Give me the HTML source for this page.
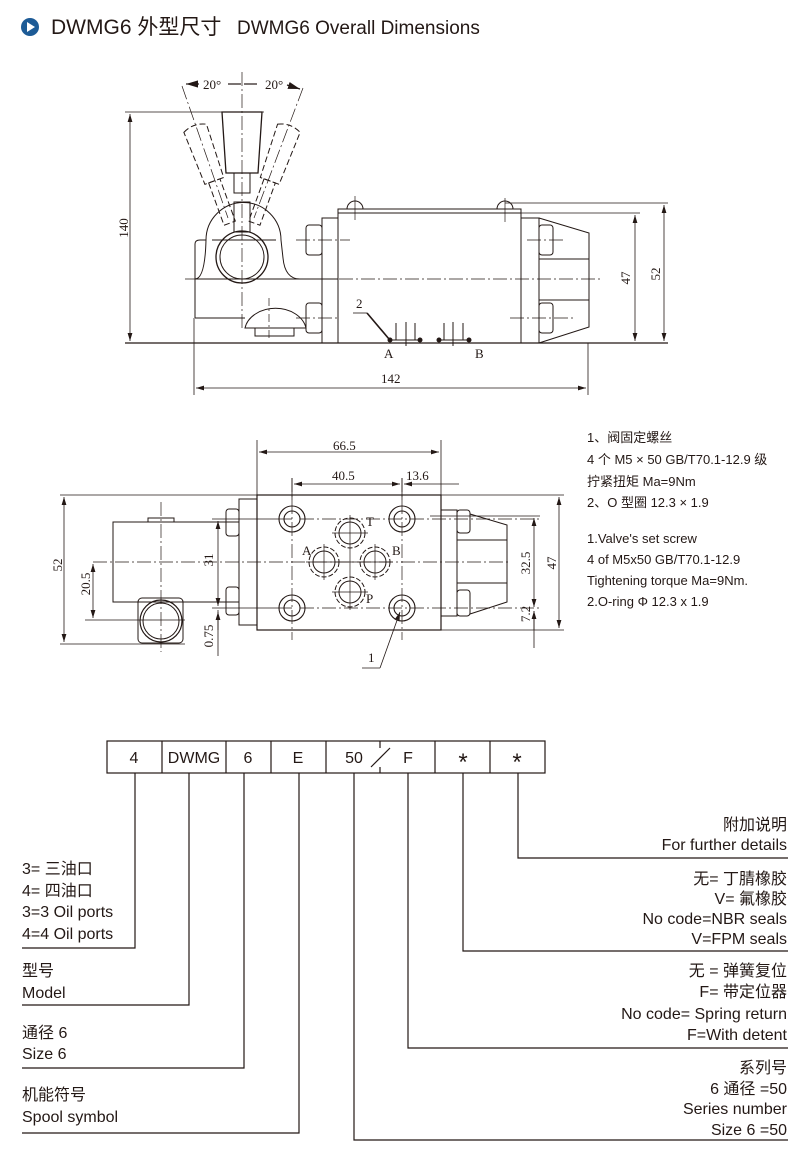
<!DOCTYPE html>
<html><head><meta charset="utf-8"><style>
body{margin:0;background:#fff}
svg{display:block}
text{font-family:"Liberation Sans","Noto Sans CJK SC",sans-serif;fill:#231815}
.s{font-family:"Liberation Serif","Noto Serif CJK SC",serif;font-size:13px}
</style></head><body>
<svg width="812" height="1164" viewBox="0 0 812 1164" xmlns="http://www.w3.org/2000/svg">
<defs><marker id="a" viewBox="0 0 10 6" refX="10" refY="3" markerWidth="10" markerHeight="6" orient="auto-start-reverse"><path d="M0,0L10,3L0,6z" fill="#231815"/></marker></defs>
<circle cx="30" cy="27" r="9" fill="#1d5b96"/>
<path d="M27,22L35,27L27,32z" fill="#fff"/>
<text x="51" y="34" font-size="21">DWMG6 外型尺寸</text>
<text x="237" y="34" font-size="19">DWMG6 Overall Dimensions</text>

<g fill="none" stroke="#231815" stroke-width="1">
<line x1="125" y1="112" x2="264" y2="112" stroke-width="0.8"/>
<line x1="130" y1="114" x2="130" y2="341" marker-start="url(#a)" marker-end="url(#a)" stroke-width="0.8"/>
<line x1="125" y1="343" x2="668" y2="343" stroke-width="1.2"/>
<path d="M222,112L262,112L258,173L226,173z" stroke-width="1.3"/>
<rect x="234" y="173" width="16" height="20"/>
<rect x="234" y="202" width="16" height="30"/>
<g stroke-dasharray="6,3" transform="rotate(-20 242 257)"><path d="M230,120Q242,114 254,120L252,176L232,176z"/><rect x="236" y="176" width="12" height="45"/></g>
<g stroke-dasharray="6,3" transform="rotate(20 242 257)"><path d="M230,120Q242,114 254,120L252,176L232,176z"/><rect x="236" y="176" width="12" height="45"/></g>
<line x1="242" y1="72" x2="242" y2="330" stroke-dasharray="14,3,2,3" stroke-width="0.7"/>
<line x1="182" y1="86" x2="228" y2="218" stroke-dasharray="14,3,2,3" stroke-width="0.7"/>
<line x1="303" y1="88" x2="254" y2="218" stroke-dasharray="14,3,2,3" stroke-width="0.7"/>
<line x1="186" y1="84" x2="199" y2="84" marker-start="url(#a)" stroke-width="1.2"/>
<line x1="228" y1="84" x2="241" y2="84" stroke-width="1.2"/>
<line x1="244" y1="84" x2="257" y2="84" stroke-width="1.2"/>
<line x1="287" y1="85" x2="300" y2="89" marker-end="url(#a)" stroke-width="1.2"/>
<path d="M195,318L195,244Q195,240 200,240L206,240"/>
<path d="M206,240A37,37 0 0 1 281,240L283,258Q285,279 300,279"/>
<path d="M206,240Q205,279 195,279"/>
<line x1="195" y1="318" x2="245" y2="318"/>
<circle cx="242" cy="257" r="26" stroke-width="1.3"/>
<circle cx="242" cy="257" r="22"/>
<path d="M245,328A31,24 0 0 1 306,328z"/>
<rect x="255" y="328" width="39" height="8"/>
<line x1="269" y1="298" x2="269" y2="338" stroke-dasharray="8,3,2,3" stroke-width="0.7"/>
<line x1="212" y1="240" x2="276" y2="240"/>
<line x1="195" y1="279" x2="338" y2="279"/>
<rect x="306" y="225" width="16" height="30" rx="3"/>
<rect x="306" y="303" width="16" height="30" rx="3"/>
<rect x="322" y="218" width="16" height="125"/>
<rect x="338" y="209" width="183" height="134"/>
<line x1="338" y1="213" x2="521" y2="213"/>
<path d="M347,209A8,8 0 0 1 363,209"/>
<path d="M497,209A8,8 0 0 1 513,209"/>
<line x1="355" y1="196" x2="355" y2="220" stroke-width="0.7"/>
<line x1="505" y1="198" x2="505" y2="222" stroke-width="0.7"/>
<rect x="521" y="218" width="18" height="125"/>
<rect x="539" y="225" width="14" height="30" rx="3"/>
<rect x="539" y="303" width="14" height="30" rx="3"/>
<path d="M539,218L589,233L589,327L539,343"/>
<line x1="539" y1="259" x2="589" y2="259"/>
<line x1="539" y1="300" x2="589" y2="300"/>
<line x1="185" y1="279" x2="600" y2="279" stroke-dasharray="14,3,2,3" stroke-width="0.7"/>
<line x1="296" y1="240" x2="350" y2="240" stroke-dasharray="14,3,2,3" stroke-width="0.7"/>
<line x1="296" y1="318" x2="340" y2="318" stroke-dasharray="14,3,2,3" stroke-width="0.7"/>
<line x1="527" y1="240" x2="563" y2="240" stroke-dasharray="14,3,2,3" stroke-width="0.7"/>
<line x1="510" y1="318" x2="575" y2="318" stroke-dasharray="14,3,2,3" stroke-width="0.7"/>
<line x1="521" y1="213" x2="640" y2="213" stroke-width="0.8"/>
<line x1="635" y1="215" x2="635" y2="341" marker-start="url(#a)" marker-end="url(#a)" stroke-width="0.8"/>
<line x1="505" y1="203" x2="668" y2="203" stroke-width="0.8"/>
<line x1="664" y1="205" x2="664" y2="341" marker-start="url(#a)" marker-end="url(#a)" stroke-width="0.8"/>
<line x1="353" y1="313" x2="367" y2="313" stroke-width="0.8"/>
<line x1="367" y1="313" x2="389" y2="339" stroke-width="1.6"/>
<line x1="390" y1="340" x2="420" y2="340"/><line x1="439" y1="340" x2="469" y2="340"/>
<line x1="396" y1="323" x2="396" y2="340"/><line x1="406" y1="322" x2="406" y2="346"/><line x1="415" y1="323" x2="415" y2="340"/>
<line x1="444" y1="323" x2="444" y2="340"/><line x1="453" y1="322" x2="453" y2="346"/><line x1="463" y1="323" x2="463" y2="340"/>
<line x1="194" y1="318" x2="194" y2="395" stroke-width="0.8"/>
<line x1="588" y1="343" x2="588" y2="395" stroke-width="0.8"/>
<line x1="196" y1="388" x2="586" y2="388" marker-start="url(#a)" marker-end="url(#a)" stroke-width="0.8"/>
</g>
<g fill="#231815"><circle cx="390" cy="340" r="2.5"/><circle cx="420" cy="340" r="2.5"/><circle cx="439" cy="340" r="2.5"/><circle cx="469" cy="340" r="2.5"/></g>
<text class="s" x="203" y="89">20°</text>
<text class="s" x="265" y="89">20°</text>
<text class="s" transform="translate(128,228) rotate(-90)" text-anchor="middle">140</text>
<text class="s" transform="translate(630,278) rotate(-90)" text-anchor="middle">47</text>
<text class="s" transform="translate(660,274) rotate(-90)" text-anchor="middle">52</text>
<text class="s" x="356" y="308">2</text>
<text class="s" x="384" y="358">A</text>
<text class="s" x="475" y="358">B</text>
<text class="s" x="381" y="383">142</text>

<g fill="none" stroke="#231815" stroke-width="1">
<line x1="257" y1="440" x2="257" y2="495" stroke-width="0.8"/>
<line x1="441" y1="440" x2="441" y2="630" stroke-width="0.8"/>
<line x1="259" y1="452" x2="439" y2="452" marker-start="url(#a)" marker-end="url(#a)" stroke-width="0.8"/>
<line x1="292" y1="478" x2="292" y2="500" stroke-width="0.8"/>
<line x1="402" y1="478" x2="402" y2="500" stroke-width="0.8"/>
<line x1="294" y1="484" x2="400" y2="484" marker-start="url(#a)" marker-end="url(#a)" stroke-width="0.8"/>
<line x1="404" y1="484" x2="459" y2="484" marker-start="url(#a)" stroke-width="0.8"/>
<rect x="257" y="495" width="184" height="135" stroke-width="1.2"/>
<line x1="60" y1="495" x2="564" y2="495" stroke-width="0.8"/>
<line x1="60" y1="644" x2="185" y2="644" stroke-width="0.8"/>
<line x1="64" y1="497" x2="64" y2="642" marker-start="url(#a)" marker-end="url(#a)" stroke-width="0.8"/>
<rect x="239" y="499" width="18" height="126"/>
<rect x="226" y="509" width="13" height="27" rx="3"/>
<rect x="226" y="587" width="13" height="28" rx="3"/>
<rect x="113" y="522" width="126" height="80"/>
<rect x="148" y="518" width="26" height="4"/>
<rect x="138" y="598" width="45" height="45" rx="4"/>
<circle cx="161" cy="621" r="21" stroke-width="1.2"/>
<circle cx="161" cy="621" r="18"/>
<line x1="93" y1="562" x2="511" y2="562" stroke-dasharray="14,3,2,3" stroke-width="0.7"/>
<line x1="161" y1="502" x2="161" y2="652" stroke-dasharray="14,3,2,3" stroke-width="0.7"/>
<line x1="85" y1="620" x2="185" y2="620" stroke-width="0.8"/>
<line x1="93" y1="564" x2="93" y2="618" marker-start="url(#a)" marker-end="url(#a)" stroke-width="0.8"/>
<line x1="212" y1="519" x2="292" y2="519" stroke-width="0.8"/>
<line x1="212" y1="608" x2="292" y2="608" stroke-width="0.8"/>
<line x1="218" y1="521" x2="218" y2="606" marker-start="url(#a)" marker-end="url(#a)" stroke-width="0.8"/>
<line x1="218" y1="610" x2="218" y2="656" stroke-width="0.8"/>
<line x1="218" y1="630" x2="218" y2="612" marker-end="url(#a)" stroke-width="0.8"/>
<line x1="292" y1="478" x2="292" y2="640" stroke-dasharray="14,3,2,3" stroke-width="0.7"/>
<line x1="402" y1="478" x2="402" y2="640" stroke-dasharray="14,3,2,3" stroke-width="0.7"/>
<line x1="300" y1="519" x2="540" y2="519" stroke-dasharray="14,3,2,3" stroke-width="0.7"/>
<line x1="300" y1="608" x2="540" y2="608" stroke-dasharray="14,3,2,3" stroke-width="0.7"/>
<g stroke-width="1.1">
<circle cx="292" cy="519" r="13"/><circle cx="292" cy="519" r="8"/>
<circle cx="402" cy="519" r="13"/><circle cx="402" cy="519" r="8"/>
<circle cx="292" cy="608" r="13"/><circle cx="292" cy="608" r="8"/>
<circle cx="402" cy="608" r="13"/><circle cx="402" cy="608" r="8"/>
</g>
<g stroke-dasharray="5,2"><circle cx="350" cy="533" r="15"/><circle cx="324" cy="562" r="15"/><circle cx="375" cy="562" r="15"/><circle cx="350" cy="592" r="15"/></g>
<circle cx="350" cy="533" r="11"/><circle cx="324" cy="562" r="11"/><circle cx="375" cy="562" r="11"/><circle cx="350" cy="592" r="11"/>
<g stroke-width="0.7"><line x1="332" y1="533" x2="368" y2="533"/><line x1="350" y1="515" x2="350" y2="610"/><line x1="306" y1="562" x2="393" y2="562"/><line x1="324" y1="544" x2="324" y2="580"/><line x1="375" y1="544" x2="375" y2="580"/><line x1="332" y1="592" x2="368" y2="592"/></g>
<rect x="441" y="510" width="16" height="106"/>
<rect x="457" y="510" width="13" height="23" rx="3"/>
<rect x="457" y="590" width="13" height="26" rx="3"/>
<path d="M470,514L507,525L507,602L470,614"/>
<line x1="457" y1="540" x2="507" y2="540"/>
<line x1="457" y1="583" x2="507" y2="583"/>
<line x1="430" y1="516" x2="540" y2="516" stroke-width="0.8"/>
<line x1="534" y1="518" x2="534" y2="607" marker-start="url(#a)" marker-end="url(#a)" stroke-width="0.8"/>
<line x1="534" y1="611" x2="534" y2="648" stroke-width="0.8"/>
<line x1="534" y1="630" x2="534" y2="611" marker-end="url(#a)" stroke-width="0.8"/>
<line x1="441" y1="630" x2="564" y2="630" stroke-width="0.8"/>
<line x1="559" y1="497" x2="559" y2="628" marker-start="url(#a)" marker-end="url(#a)" stroke-width="0.8"/>
<line x1="400" y1="612" x2="380" y2="668" marker-start="url(#a)" stroke-width="0.8"/>
<line x1="380" y1="668" x2="362" y2="668" stroke-width="0.8"/>
</g>
<text class="s" x="333" y="450">66.5</text>
<text class="s" x="332" y="480">40.5</text>
<text class="s" x="406" y="480">13.6</text>
<text class="s" x="366" y="526">T</text>
<text class="s" x="302" y="555">A</text>
<text class="s" x="392" y="555">B</text>
<text class="s" x="366" y="603">P</text>
<text class="s" x="368" y="662">1</text>
<text class="s" transform="translate(62,565) rotate(-90)" text-anchor="middle">52</text>
<text class="s" transform="translate(90,584) rotate(-90)" text-anchor="middle">20.5</text>
<text class="s" transform="translate(213,560) rotate(-90)" text-anchor="middle">31</text>
<text class="s" transform="translate(213,636) rotate(-90)" text-anchor="middle">0.75</text>
<text class="s" transform="translate(530,563) rotate(-90)" text-anchor="middle">32.5</text>
<text class="s" transform="translate(530,614) rotate(-90)" text-anchor="middle">7.2</text>
<text class="s" transform="translate(556,563) rotate(-90)" text-anchor="middle">47</text>

<g font-size="13">
<text x="587" y="442">1、阀固定螺丝</text>
<text x="587" y="464">4 个 M5 × 50 GB/T70.1-12.9 级</text>
<text x="587" y="486">拧紧扭矩 Ma=9Nm</text>
<text x="587" y="507">2、O 型圈 12.3 × 1.9</text>
<text x="587" y="543">1.Valve's set screw</text>
<text x="587" y="564">4 of M5x50 GB/T70.1-12.9</text>
<text x="587" y="585">Tightening torque Ma=9Nm.</text>
<text x="587" y="606">2.O-ring Φ 12.3 x 1.9</text>
</g>

<g fill="none" stroke="#231815" stroke-width="1.2">
<rect x="107" y="741" width="438" height="32"/>
<line x1="162" y1="741" x2="162" y2="773"/><line x1="226" y1="741" x2="226" y2="773"/>
<line x1="271" y1="741" x2="271" y2="773"/><line x1="326" y1="741" x2="326" y2="773"/>
<line x1="380" y1="741" x2="380" y2="748"/><line x1="380" y1="767" x2="380" y2="773"/>
<line x1="371" y1="767" x2="390" y2="748"/>
<line x1="435" y1="741" x2="435" y2="773"/><line x1="490" y1="741" x2="490" y2="773"/>
<polyline points="135,773 135,948 22,948"/>
<polyline points="189,773 189,1005 22,1005"/>
<polyline points="244,773 244,1068 22,1068"/>
<polyline points="299,773 299,1133 22,1133"/>
<polyline points="354,773 354,1140 788,1140"/>
<polyline points="408,773 408,1048 788,1048"/>
<polyline points="463,773 463,951 788,951"/>
<polyline points="518,773 518,858 788,858"/>
</g>
<g font-size="16" text-anchor="middle">
<text x="134" y="763">4</text><text x="194" y="763">DWMG</text><text x="248" y="763">6</text>
<text x="298" y="763">E</text><text x="354" y="763">50</text><text x="408" y="763">F</text>
<text x="463" y="770" font-size="24">*</text><text x="517" y="770" font-size="24">*</text>
</g>
<g font-size="16">
<text x="22" y="874">3= 三油口</text><text x="22" y="896">4= 四油口</text>
<text x="22" y="917">3=3 Oil ports</text><text x="22" y="939">4=4 Oil ports</text>
<text x="22" y="976">型号</text><text x="22" y="998">Model</text>
<text x="22" y="1038">通径 6</text><text x="22" y="1059">Size 6</text>
<text x="22" y="1100">机能符号</text><text x="22" y="1122">Spool symbol</text>
</g>
<g font-size="16" text-anchor="end">
<text x="787" y="830">附加说明</text><text x="787" y="850">For further details</text>
<text x="787" y="884">无= 丁腈橡胶</text><text x="787" y="904">V= 氟橡胶</text>
<text x="787" y="924">No code=NBR seals</text><text x="787" y="944">V=FPM seals</text>
<text x="787" y="976">无 = 弹簧复位</text><text x="787" y="997">F= 带定位器</text>
<text x="787" y="1019">No code= Spring return</text><text x="787" y="1040">F=With detent</text>
<text x="787" y="1073">系列号</text><text x="787" y="1094">6 通径 =50</text>
<text x="787" y="1114">Series number</text><text x="787" y="1135">Size 6 =50</text>
</g>
</svg>
</body></html>
